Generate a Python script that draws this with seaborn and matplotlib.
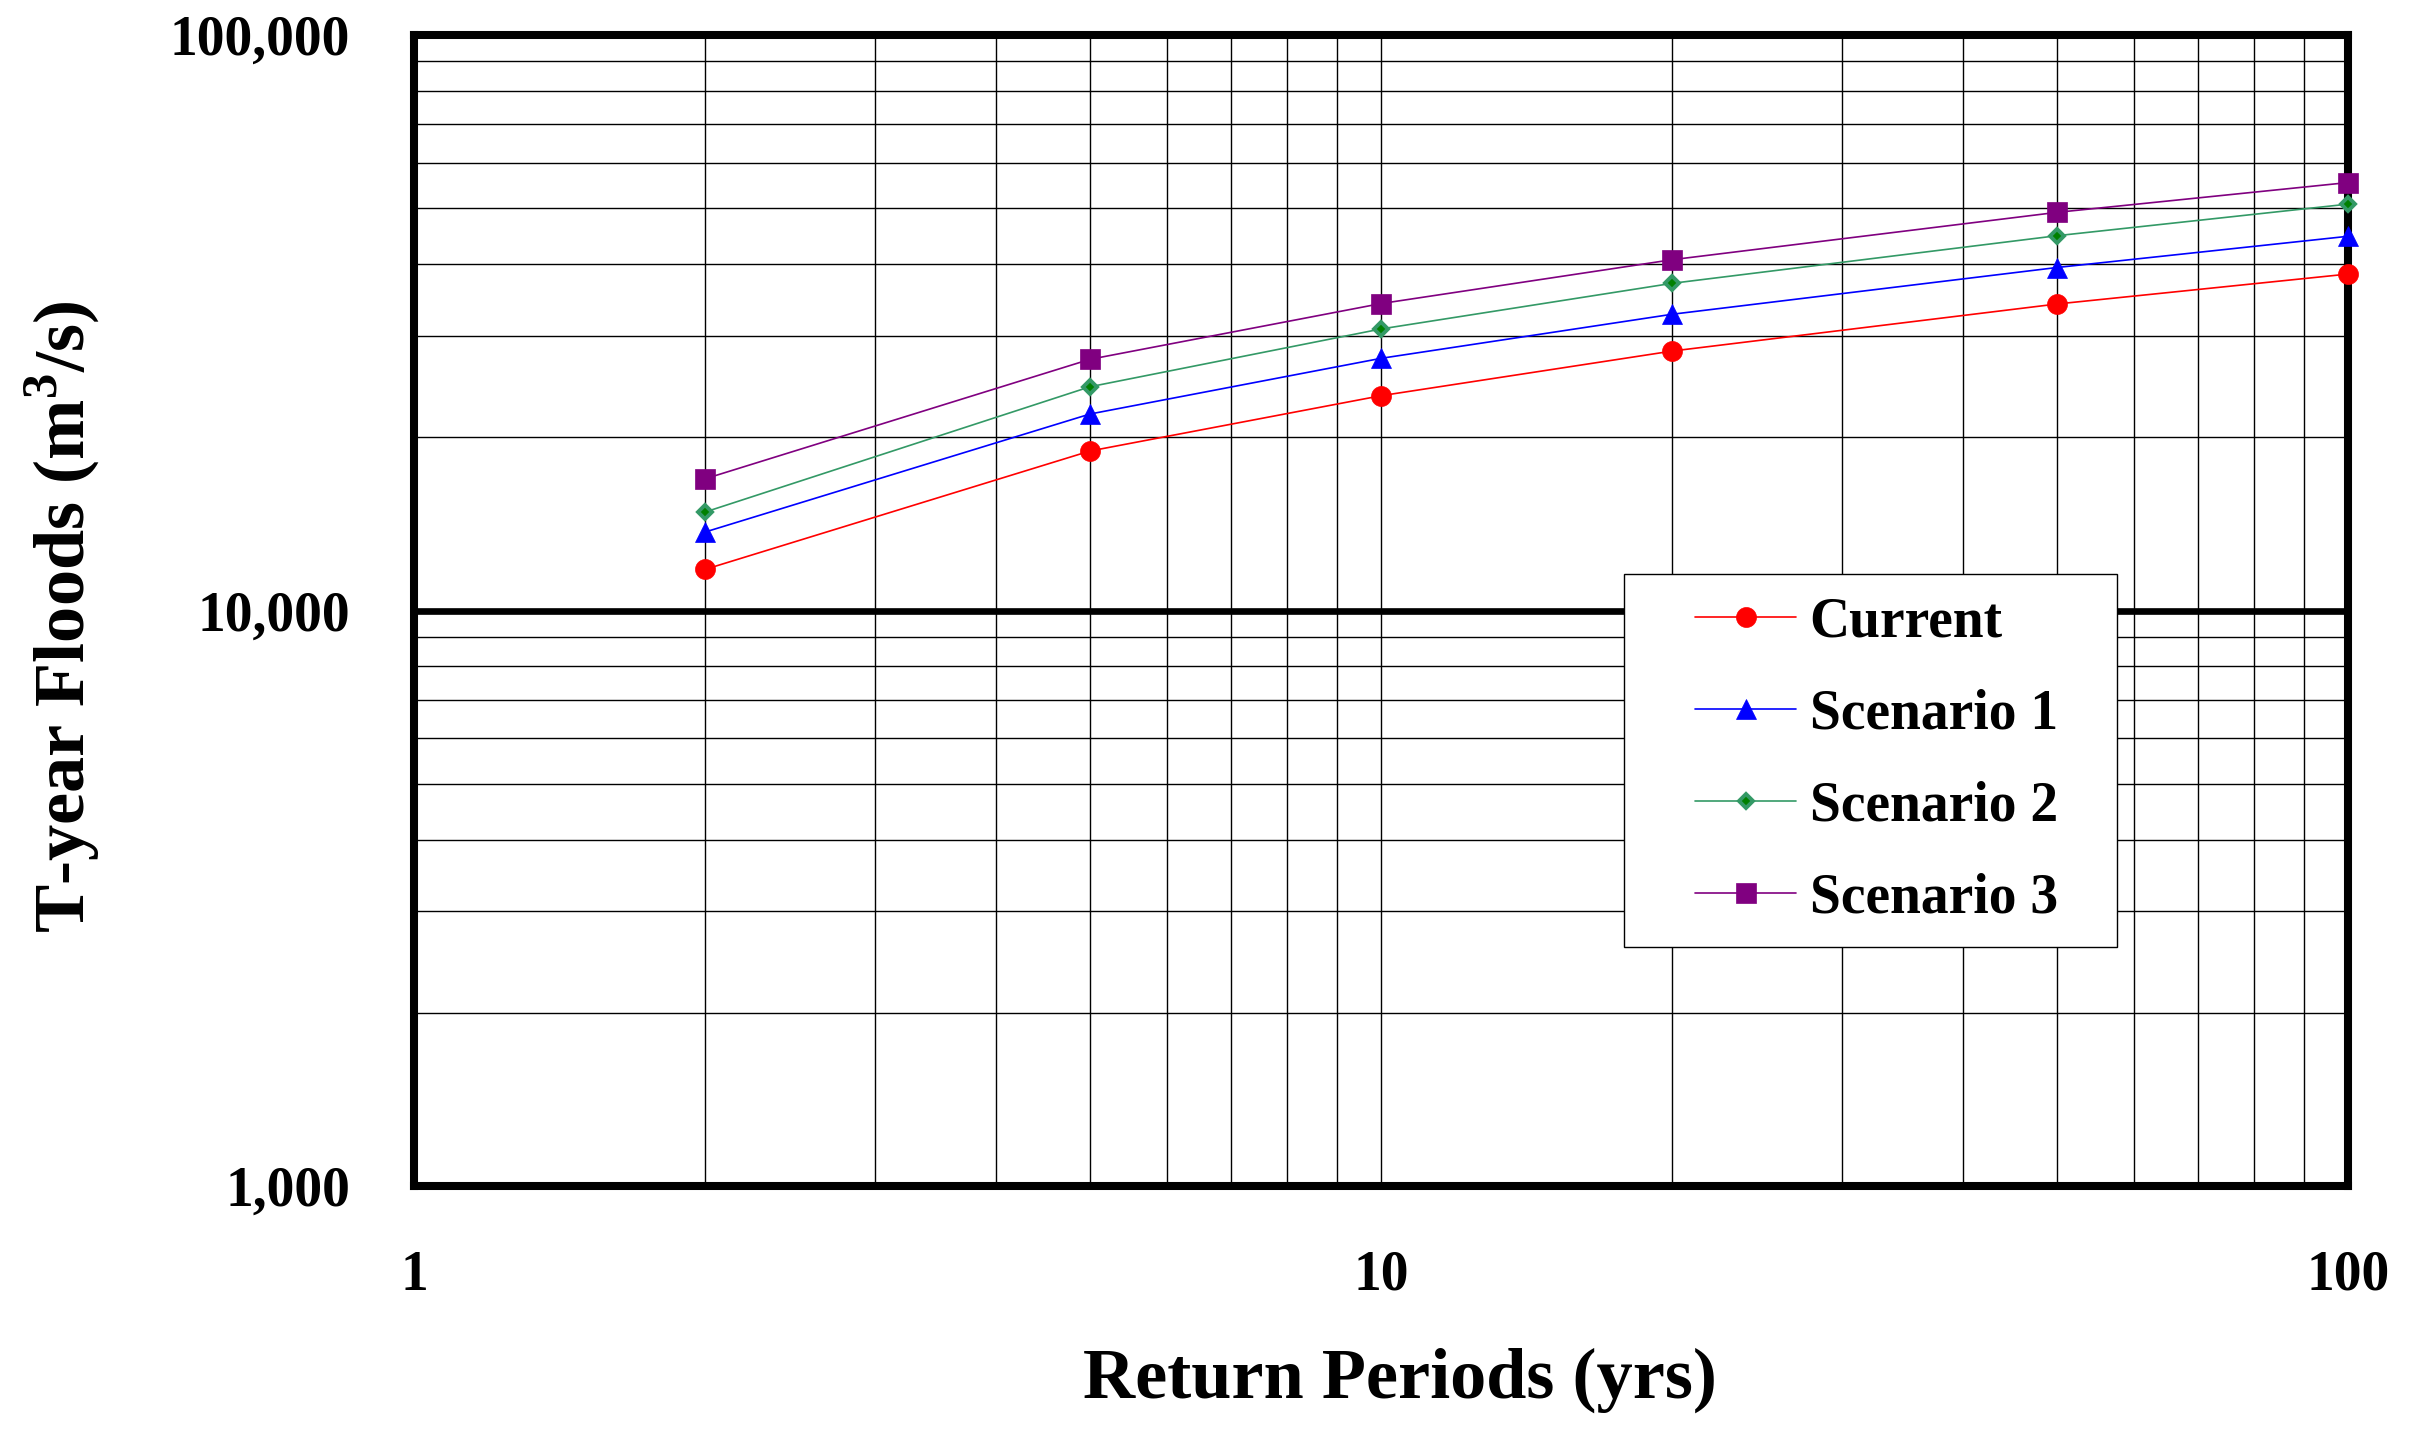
import numpy as np
import seaborn as sns
import matplotlib.pyplot as plt
from matplotlib.ticker import FixedLocator, LogLocator, FuncFormatter, NullFormatter
from matplotlib.lines import Line2D
from matplotlib.legend_handler import HandlerLine2D

# Data
return_periods = [2, 5, 10, 20, 50, 100]
current = [11790, 18930, 23620, 28240, 34090, 38430]
scenario_1 = [13690, 21950, 27430, 32720, 39450, 44700]
scenario_2 = [14830, 24480, 30850, 37030, 44800, 50840]
scenario_3 = [16940, 27320, 34150, 40700, 49190, 55420]

x_ticks = [1, 10, 100]
y_ticks = [1000, 10000, 100000]

sns.set_theme(style='white')
plt.rcParams['font.family'] = ['Liberation Serif', 'DejaVu Serif']
plt.rcParams['font.weight'] = 'bold'
plt.rcParams['mathtext.fontset'] = 'custom'
plt.rcParams['mathtext.rm'] = 'Liberation Serif:bold'
plt.rcParams['mathtext.bf'] = 'Liberation Serif:bold'
for key in ['text.color', 'axes.labelcolor', 'xtick.color', 'ytick.color']:
    plt.rcParams[key] = 'black'

fig, ax = plt.subplots(figsize=(24.1, 14.36), dpi=100)
fig.subplots_adjust(left=0.1718, right=0.9743, top=0.9756, bottom=0.1741)

series = [
    ('Current', current, dict(color='#FF0000', marker='o', markersize=14.4,
                              markerfacecolor='#FF0000', markeredgecolor='#FF0000', markeredgewidth=0.5)),
    ('Scenario 1', scenario_1, dict(color='#0000FF', marker='^', markersize=15,
                                    markerfacecolor='#0000FF', markeredgecolor='#0000FF', markeredgewidth=0.5)),
    ('Scenario 2', scenario_2, dict(color='#339966', marker='D', markersize=7.4,
                                    markerfacecolor='#008000', markeredgecolor='#339966', markeredgewidth=2.8)),
    ('Scenario 3', scenario_3, dict(color='#800080', marker='s', markersize=13.7,
                                    markerfacecolor='#800080', markeredgecolor='#800080', markeredgewidth=0.5)),
]

for name, vals, style in series:
    sns.lineplot(x=return_periods, y=vals, ax=ax, label=name, linewidth=1.2,
                 clip_on=False, zorder=4, **style)

ax.set_xscale('log')
ax.set_yscale('log')
ax.set_xlim(1, 100)
ax.set_ylim(1000, 100000)

ax.xaxis.set_major_locator(FixedLocator(x_ticks))
ax.yaxis.set_major_locator(FixedLocator(y_ticks))
ax.xaxis.set_minor_locator(LogLocator(base=10, subs=np.arange(2, 10)))
ax.yaxis.set_minor_locator(LogLocator(base=10, subs=np.arange(2, 10)))
ax.xaxis.set_major_formatter(FuncFormatter(lambda v, p: f'{v:g}'))
ax.yaxis.set_major_formatter(FuncFormatter(lambda v, p: f'{v:,.0f}'))
ax.xaxis.set_minor_formatter(NullFormatter())
ax.yaxis.set_minor_formatter(NullFormatter())

ax.set_axisbelow(True)
ax.grid(which='both', color='black', linewidth=1.0)
ax.grid(which='major', axis='y', color='black', linewidth=4.8)

ax.tick_params(which='both', length=0)
ax.tick_params(axis='x', labelsize=40, pad=46, labelcolor='black')
ax.tick_params(axis='y', labelsize=40, pad=46, labelcolor='black')
for lab in ax.get_xticklabels() + ax.get_yticklabels():
    lab.set_fontweight('bold')

for sp in ax.spines.values():
    sp.set_visible(True)
    sp.set_color('black')
    sp.set_linewidth(5.8)
    sp.set_zorder(3)

ax.set_xlabel('Return Periods (yrs)', fontsize=52, fontweight='bold', va='center', color='black')
ax.set_ylabel('T-year Floods (m$^{3}$/s)', fontsize=52, fontweight='bold', va='center', color='black')
ax.xaxis.set_label_coords(0.51, -0.1686)
ax.yaxis.set_label_coords(-0.182, 0.495)

leg = ax.legend(loc='center', bbox_to_anchor=(0.6257, 0.2085, 0.2549, 0.3223),
                mode='expand', borderaxespad=0, borderpad=0.4, labelspacing=0.72,
                handlelength=2.69, handletextpad=0.25, numpoints=1,
                prop={'size': 40, 'weight': 'bold'}, fancybox=False,
                frameon=True, handler_map={Line2D: HandlerLine2D(xpad=0.88, numpoints=1)})
leg.get_frame().set_edgecolor('black')
leg.get_frame().set_linewidth(1.0)
leg.get_frame().set_facecolor('white')
leg.get_frame().set_alpha(1)
leg.set_zorder(5)
for t in leg.get_texts():
    t.set_color('black')

fig.savefig('out.png', dpi=100, facecolor='white')
